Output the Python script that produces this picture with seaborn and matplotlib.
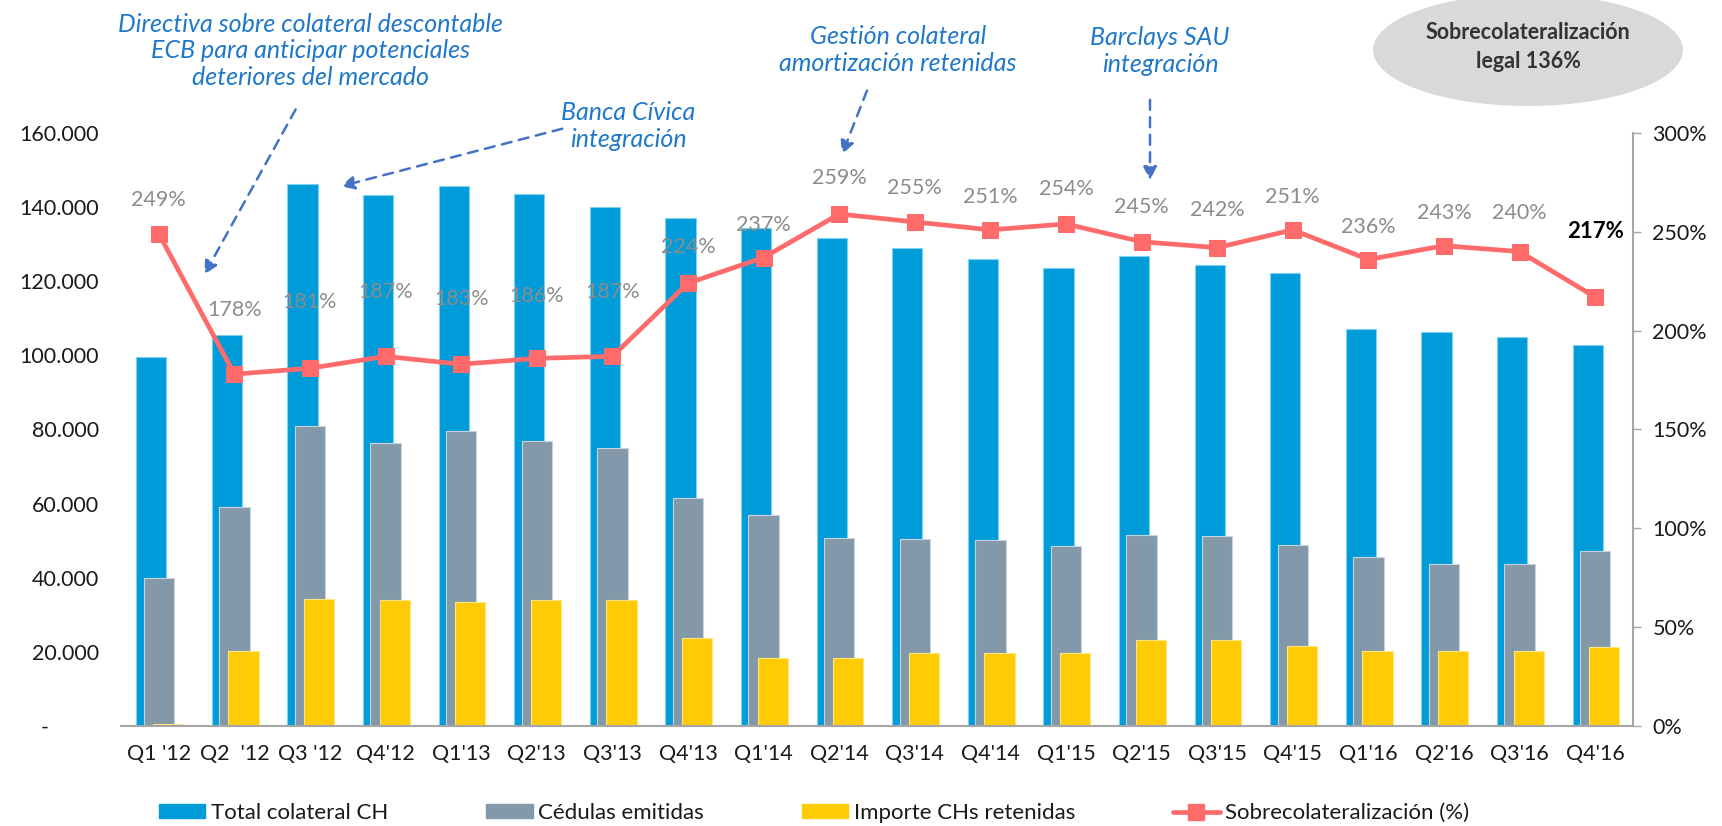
import numpy as np
import pandas as pd
import matplotlib
matplotlib.use("Agg")
import matplotlib.pyplot as plt
from matplotlib.patches import Ellipse, Patch, FancyArrowPatch
from matplotlib.lines import Line2D
import seaborn as sns

# ---------------- data ----------------
quarters = ["Q1 '12", "Q2  '12", "Q3 '12", "Q4'12", "Q1'13", "Q2'13", "Q3'13", "Q4'13",
            "Q1'14", "Q2'14", "Q3'14", "Q4'14", "Q1'15", "Q2'15", "Q3'15", "Q4'15",
            "Q1'16", "Q2'16", "Q3'16", "Q4'16"]
total_colateral = [99500, 105400, 146200, 143200, 145600, 143500, 140100, 137200,
                   134500, 131800, 128900, 126100, 123700, 126800, 124500, 122100,
                   107100, 106400, 105000, 102700]
cedulas_emitidas = [39900, 59000, 80900, 76400, 79500, 77000, 74900, 61400,
                    57000, 50700, 50500, 50200, 48700, 51600, 51300, 48900,
                    45500, 43800, 43800, 47200]
chs_retenidas = [500, 20300, 34400, 34100, 33400, 34100, 34000, 23700,
                 18400, 18400, 19600, 19600, 19600, 23100, 23100, 21600,
                 20300, 20300, 20300, 21300]
sobrecol_pct = [249, 178, 181, 187, 183, 186, 187, 224, 237, 259, 255, 251, 254,
                245, 242, 251, 236, 243, 240, 217]
# vertical offset of each percentage label above its marker (pixels)
label_offset_px = [34, 64, 66, 64, 65, 62, 64, 36, 33, 36, 34, 33, 35, 35, 38,
                   33, 33, 33, 39, 66]

series_names = ["Total colateral CH", "Cédulas emitidas", "Importe CHs retenidas",
                "Sobrecolateralización (%)"]

# ---------------- style ----------------
sns.set_theme(style="white")
plt.rcParams["font.family"] = ["Lato", "DejaVu Sans"]

BLUE = "#009BD9"
GRAY = "#8399AA"
YELLOW = "#FFCB05"
RED = "#FF6B6B"
ANN = "#1F78C8"
ARROW = "#4472C4"
TXT = "#1A1A1A"

W, H = 1722, 826
fig = plt.figure(figsize=(W / 100, H / 100), dpi=100)
ax = fig.add_axes([121 / W, 1 - 726 / H, (1633 - 121) / W, (726 - 133) / H])

idx = np.arange(len(quarters))
df = pd.DataFrame({"i": idx, "total": total_colateral, "ced": cedulas_emitidas,
                   "ret": chs_retenidas, "pct": sobrecol_pct})

bar_w = 0.40
for col, off, colr, edge in [("total", -0.10, BLUE, "#7FD3F2"),
                             ("ced", 0.0, GRAY, "#C9D3DB"),
                             ("ret", 0.12, YELLOW, "#FFE680")]:
    sns.barplot(x=df["i"] + off, y=df[col], native_scale=True, width=bar_w,
                color=colr, saturation=1, errorbar=None, ax=ax,
                edgecolor=edge, linewidth=0.8)

ax.set_xlim(-0.5, len(quarters) - 0.5)
ax.set_ylim(0, 160000)
ax.set_xticks(idx)
ax.set_xticklabels(quarters, fontsize=15.5, color=TXT)
ax.set_yticks(np.arange(0, 160001, 20000))
ax.set_yticklabels(["-" + " " * 9] + [f"{v:,}".replace(",", ".") for v in range(20000, 160001, 20000)],
                   fontsize=15.5, color=TXT)
ax.tick_params(axis="x", length=0, pad=13)
ax.tick_params(axis="y", length=0, pad=16)
ax.set_xlabel("")
ax.set_ylabel("")
for s in ["left", "top", "right"]:
    ax.spines[s].set_visible(False)
ax.spines["bottom"].set_color("#A6A6A6")
ax.spines["bottom"].set_linewidth(1.5)
ax.grid(False)

# ---------------- secondary axis ----------------
ax2 = ax.twinx()
sns.lineplot(x=df["i"], y=df["pct"], ax=ax2, color=RED, linewidth=3.4,
             marker="s", markersize=11, markeredgecolor=RED, markerfacecolor=RED)
ax2.set_ylim(0, 300)
ax2.set_yticks(np.arange(0, 301, 50))
ax2.set_yticklabels([f"{v}%" for v in range(0, 301, 50)], fontsize=15.5, color=TXT)
ax2.tick_params(axis="y", direction="out", length=6, width=1, color="#A6A6A6", pad=8)
ax2.set_ylabel("")
ax2.set_xlabel("")
for s in ["left", "top", "bottom"]:
    ax2.spines[s].set_visible(False)
ax2.spines["right"].set_color("#A6A6A6")
ax2.spines["right"].set_linewidth(1.5)
ax2.grid(False)
ax2.set_xlim(-0.5, len(quarters) - 0.5)

for i, (v, off) in enumerate(zip(sobrecol_pct, label_offset_px)):
    last = i == len(sobrecol_pct) - 1
    ax2.annotate(f"{v}%", xy=(i, v), xytext=(0, off * 0.72), textcoords="offset points",
                 ha="center", va="center", fontsize=15.5 if not last else 16,
                 color="#8C8C8C" if not last else "#000000",
                 fontweight="bold" if last else "normal")

# ---------------- annotations ----------------
def fxy(px, py):
    return (px / W, 1 - py / H)

texts = [("Directiva sobre colateral descontable\nECB para anticipar potenciales\ndeteriores del mercado", 311, 51),
         ("Banca Cívica\nintegración", 628, 126),
         ("Gestión colateral\namortización retenidas", 898, 50),
         ("Barclays SAU\nintegración", 1160, 51)]
for t, px, py in texts:
    fig.text(*fxy(px, py), t, ha="center", va="center", fontsize=18, style="italic",
             color=ANN, linespacing=1.2)

arrows = [((297, 107), (203, 277)),
          ((565, 128), (338, 187)),
          ((868, 88), (841, 157)),
          ((1150, 97), (1150, 183))]
for (x0, y0), (x1, y1) in arrows:
    fig.add_artist(FancyArrowPatch(
        fxy(x0, y0), fxy(x1, y1), transform=fig.transFigure,
        arrowstyle="-|>,head_length=8,head_width=4", linestyle=(0, (4, 3)),
        color=ARROW, linewidth=1.8, mutation_scale=1))

ell = Ellipse(fxy(1528, 50), 310 / W, 112 / H, transform=fig.transFigure,
              facecolor="#D9D9D9", edgecolor="none")
fig.add_artist(ell)
fig.text(*fxy(1528, 47), "Sobrecolateralización\nlegal 136%", ha="center", va="center",
         fontsize=15.5, fontweight="bold", color="#333333", linespacing=1.45)

# ---------------- legend ----------------
handles = [Patch(facecolor=BLUE, edgecolor=BLUE),
           Patch(facecolor=GRAY, edgecolor=GRAY),
           Patch(facecolor=YELLOW, edgecolor=YELLOW),
           Line2D([0], [0], color=RED, linewidth=3.4, marker="s", markersize=11)]
fig.legend(handles, series_names, loc="center", bbox_to_anchor=(814 / W, 1 - 813 / H),
           ncol=4, frameon=False, fontsize=16, handlelength=2.1, handleheight=0.55,
           handletextpad=0.25, columnspacing=4.4, labelcolor=TXT)

fig.savefig("out.png", dpi=100)
